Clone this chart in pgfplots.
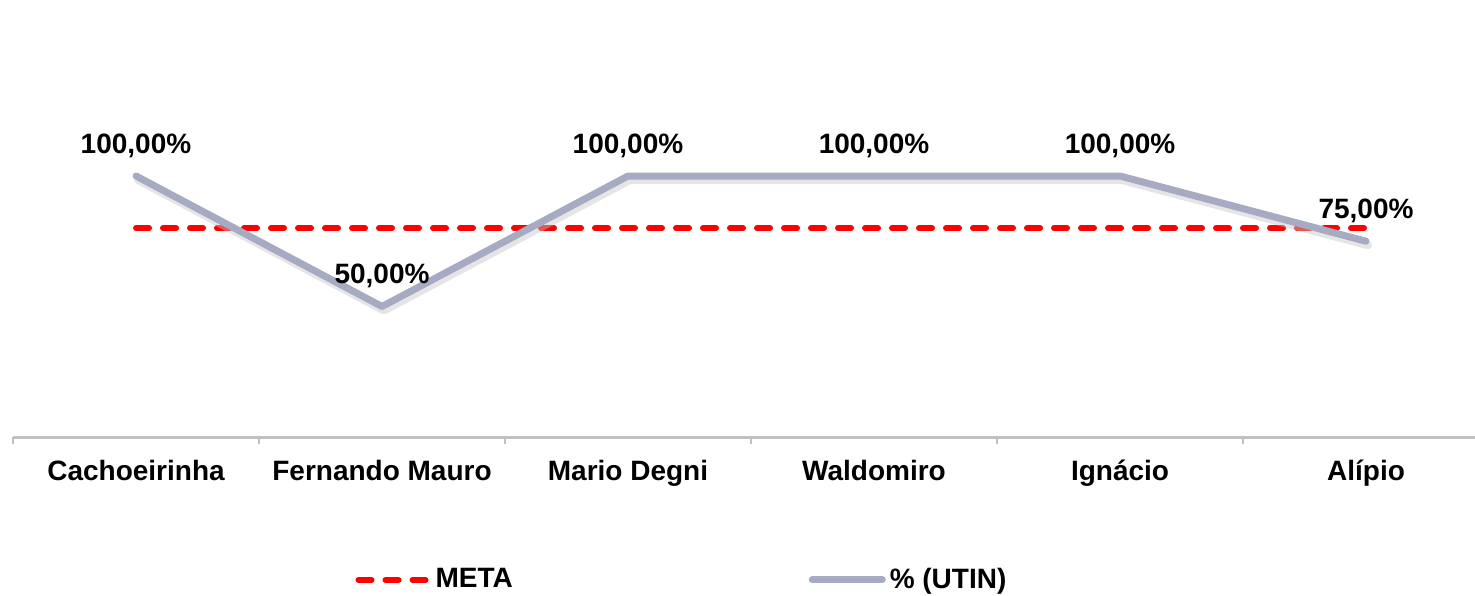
\documentclass[border=0pt]{standalone}
\usepackage{pgfplots}
\pgfplotsset{compat=1.18}
\usepackage{fontspec}
\setmainfont{Liberation Sans}
\definecolor{utin}{RGB}{166,170,194}
\definecolor{axisgray}{RGB}{192,192,192}
\definecolor{metared}{RGB}{255,0,0}
\begin{document}
\begin{tikzpicture}[font=\fontsize{14}{16}\selectfont\bfseries]
\begin{axis}[
  name=ax,
  scale only axis,
  width=731pt, height=208.8pt,
  xmin=-0.5, xmax=5.443,
  ymin=0, ymax=160,
  axis y line=none,
  axis x line=bottom,
  x axis line style={-, draw=axisgray, line width=1.5pt},
  xtick={0,...,5},
  xticklabels={Cachoeirinha, Fernando Mauro, Mario Degni, Waldomiro, Ignácio, Alípio},
  major tick length=0pt,
  minor xtick={-0.5,0.5,...,5.5},
  minor tick length=3.5pt,
  tick align=outside,
  minor tick style={draw=axisgray, line width=1pt},
  xticklabel style={anchor=base, yshift=-21.5pt, text=black},
  clip=false,
  legend columns=2,
  legend style={at={(axis description cs:0.234,-0.342)}, anchor=west,
    draw=none, fill=none, inner sep=0pt,
    /tikz/every even column/.append style={column sep=146pt}},
  legend image code/.code={\draw[#1] (0pt,0pt) -- (35pt,0pt);},
]
% target line
\addplot[metared, line width=3pt, line cap=round, dash pattern=on 6.5pt off 7pt]
  coordinates {(0,80) (1,80) (2,80) (3,80) (4,80) (5,80)};
\addlegendentry{META}
% soft shadow under the UTIN series
\addplot[gray!45, opacity=0.45, line width=4pt, line cap=round, line join=round,
  forget plot, transform canvas={xshift=1pt, yshift=-2pt}]
  coordinates {(0,100) (1,50) (2,100) (3,100) (4,100) (5,75)};
% UTIN occupancy
\addplot[utin, line width=3.5pt, line cap=round, line join=round,
  nodes near coords={\pgfmathprintnumber[fixed, fixed zerofill, precision=2,
    use comma, assume math mode=true]{\pgfplotspointmeta}\%},
  every node near coord/.append style={anchor=base, yshift=11.5pt, text=black}]
  coordinates {(0,100) (1,50) (2,100) (3,100) (4,100) (5,75)};
\addlegendentry{\% (UTIN)}
\end{axis}
\pgfresetboundingbox
\path[use as bounding box] ([xshift=-6.5pt,yshift=-79pt]ax.south west)
  rectangle ([yshift=218.5pt]ax.south east);
\end{tikzpicture}
\end{document}
